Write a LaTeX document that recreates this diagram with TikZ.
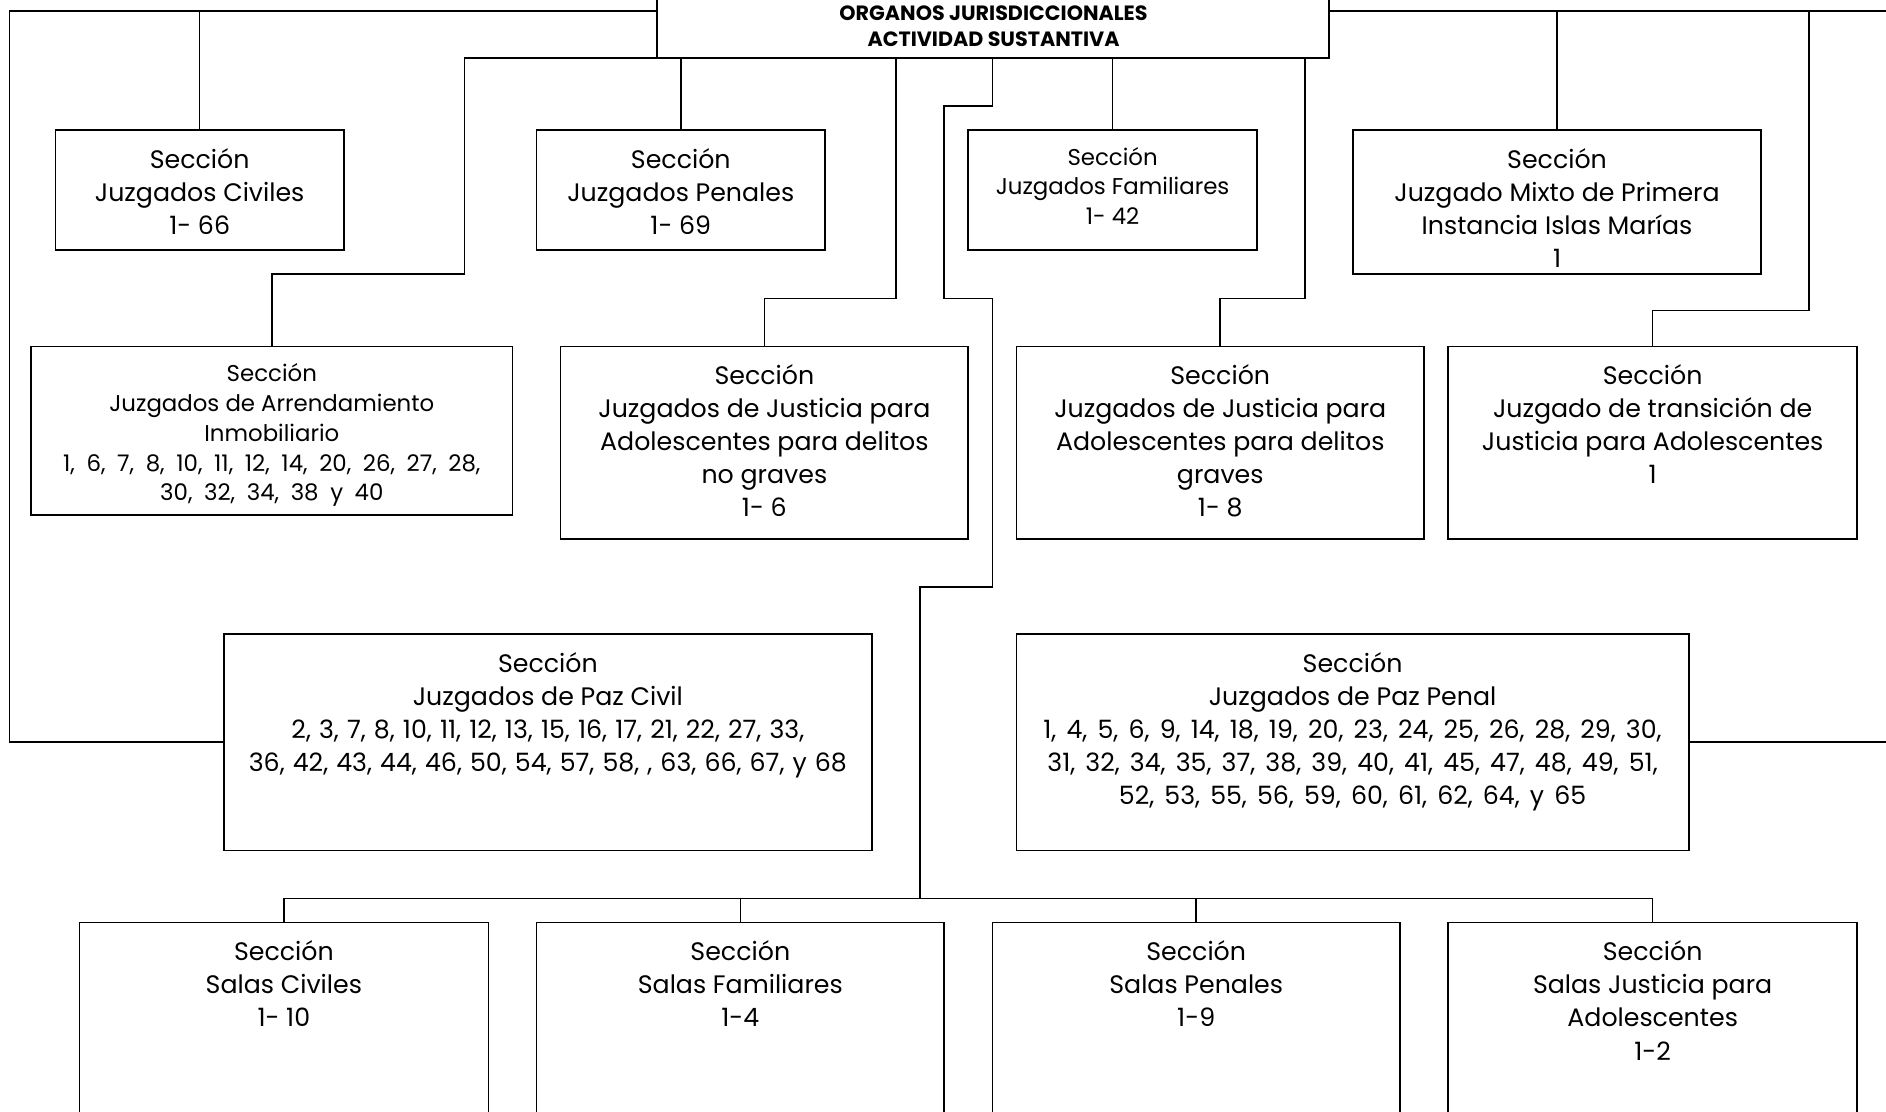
\documentclass[tikz,border=0pt]{standalone}
\usepackage{fontspec}
\setmainfont[Numbers=Monospaced]{Poppins}
% number lists are set with wider word spaces
\newcommand\spreadline[2]{{\spaceskip=#1\fontdimen2\font\relax #2}}
\begin{document}
\begin{tikzpicture}[x=1pt,y=1pt,
  box/.style={draw=black, line width=1.3pt, inner sep=0pt, outer sep=0pt, anchor=north west, fill=white},
  txt/.style={inner sep=0pt, anchor=north, align=center, font=\fontsize{21}{27.5}\selectfont},
  txtsm/.style={inner sep=0pt, anchor=north, align=center, font=\fontsize{19}{24.8}\selectfont},
  wire/.style={draw=black, line width=1.3pt}]
\useasboundingbox (0,0) rectangle (1568,-924);
\clip (0,0) rectangle (1568,-924);
\fill[white] (0,0) rectangle (1568,-924);

% bus anchor points
\coordinate (topL) at (8,-9);
\coordinate (topR) at (1620,-9);
\coordinate (busL) at (386,-48);
\coordinate (busR) at (1085,-48);

% boxes
\node[box, minimum width=559, minimum height=78] (org) at (546,30) {};
\node[box, minimum width=240, minimum height=100] (civ) at (46,-108) {};
\node[box, minimum width=240, minimum height=100] (pen) at (446,-108) {};
\node[box, minimum width=240, minimum height=100] (fam) at (805,-108) {};
\node[box, minimum width=339, minimum height=120] (mix) at (1125,-108) {};
\node[box, minimum width=400, minimum height=140] (arr) at (26,-288) {};
\node[box, minimum width=339, minimum height=160] (nog) at (466,-288) {};
\node[box, minimum width=339, minimum height=160] (gra) at (845,-288) {};
\node[box, minimum width=340, minimum height=160] (tra) at (1204,-288) {};
\node[box, minimum width=539, minimum height=180] (pzc) at (186,-527) {};
\node[box, minimum width=559, minimum height=180] (pzp) at (845,-527) {};
\node[box, minimum width=340, minimum height=220] (sci) at (66,-767) {};
\node[box, minimum width=339, minimum height=220] (sfa) at (446,-767) {};
\node[box, minimum width=339, minimum height=220] (spe) at (825,-767) {};
\node[box, minimum width=340, minimum height=220] (sad) at (1204,-767) {};

% connectors: upper bus
\draw[wire] (org.west |- topL) -- (topL) -- (8,-617) -- (pzc.west);
\draw[wire] (civ.north) -- (civ.north |- topL);
\draw[wire] (org.east |- topR) -- (topR);
\draw[wire] (mix.north) -- (mix.north |- topR);
\draw[wire] (1504,-9) -- (1504,-258) -- (tra.north |- 0,-258) -- (tra.north);
\draw[wire] (pzp.east) -- (1620,-617);

% connectors: bus under the title box
\draw[wire] (busL) -- (org.south west);
\draw[wire] (org.south east) -- (busR);
\draw[wire] (busL) -- (386,-228) -- (arr.north |- 0,-228) -- (arr.north);
\draw[wire] (pen.north) -- (pen.north |- busL);
\draw[wire] (745,-48) -- (745,-248) -- (nog.north |- 0,-248) -- (nog.north);
\draw[wire] (fam.north) -- (fam.north |- busL);
\draw[wire] (busR) -- (1085,-248) -- (gra.north |- 0,-248) -- (gra.north);
\draw[wire] (825,-48) -- (825,-88) -- (785,-88) -- (785,-248) -- (825,-248)
  -- (825,-488) -- (765,-488) -- (765,-747);

% connectors: salas
\coordinate (salasbus) at (765,-747);
\draw[wire] (sci.north) -- (sci.north |- salasbus) -- (sad.north |- salasbus) -- (sad.north);
\draw[wire] (sfa.north) -- (sfa.north |- salasbus);
\draw[wire] (spe.north) -- (spe.north |- salasbus);

% texts
\node[inner sep=0pt, align=center, font=\bfseries\fontsize{17.2}{21}\selectfont, anchor=north] (orgt) at (826,-5)
  {ORGANOS JURISDICCIONALES\\ACTIVIDAD SUSTANTIVA};
\node[txt] at ([yshift=-15pt]civ.north) {Sección\\Juzgados Civiles\\1- 66};
\node[txt] at ([yshift=-15pt]pen.north) {Sección\\Juzgados Penales\\1- 69};
\node[txtsm] at ([yshift=-14pt]fam.north) {Sección\\Juzgados Familiares\\1- 42};
\node[txt] at ([yshift=-15pt]mix.north) {Sección\\Juzgado Mixto de Primera\\Instancia Islas Marías\\1};
\node[txtsm] at ([yshift=-14pt]arr.north) {Sección\\Juzgados de Arrendamiento\\Inmobiliario\\
  \spreadline{1.9}{1, 6, 7, 8, 10, 11, 12, 14, 20, 26, 27, 28,}\\\spreadline{1.9}{30, 32, 34, 38 y 40}};
\node[txt] at ([yshift=-15pt]nog.north) {Sección\\Juzgados de Justicia para\\Adolescentes para delitos\\no graves\\1- 6};
\node[txt] at ([yshift=-15pt]gra.north) {Sección\\Juzgados de Justicia para\\Adolescentes para delitos\\graves\\1- 8};
\node[txt] at ([yshift=-15pt]tra.north) {Sección\\Juzgado de transición de\\Justicia para Adolescentes\\1};
\node[txt] at ([yshift=-15pt]pzc.north) {Sección\\Juzgados de Paz Civil\\
  \spreadline{1.2}{2, 3, 7, 8, 10, 11, 12, 13, 15, 16, 17, 21, 22, 27, 33,}\\
  \spreadline{1.2}{36, 42, 43, 44, 46, 50, 54, 57, 58, , 63, 66, 67, y 68}};
\node[txt] at ([yshift=-15pt]pzp.north) {Sección\\Juzgados de Paz Penal\\
  \spreadline{1.5}{1, 4, 5, 6, 9, 14, 18, 19, 20, 23, 24, 25, 26, 28, 29, 30,}\\
  \spreadline{1.5}{31, 32, 34, 35, 37, 38, 39, 40, 41, 45, 47, 48, 49, 51,}\\
  \spreadline{1.5}{52, 53, 55, 56, 59, 60, 61, 62, 64, y 65}};
\node[txt] at ([yshift=-15pt]sci.north) {Sección\\Salas Civiles\\1- 10};
\node[txt] at ([yshift=-15pt]sfa.north) {Sección\\Salas Familiares\\1-4};
\node[txt] at ([yshift=-15pt]spe.north) {Sección\\Salas Penales\\1-9};
\node[txt] at ([yshift=-15pt]sad.north) {Sección\\Salas Justicia para\\Adolescentes\\1-2};
\end{tikzpicture}
\end{document}
